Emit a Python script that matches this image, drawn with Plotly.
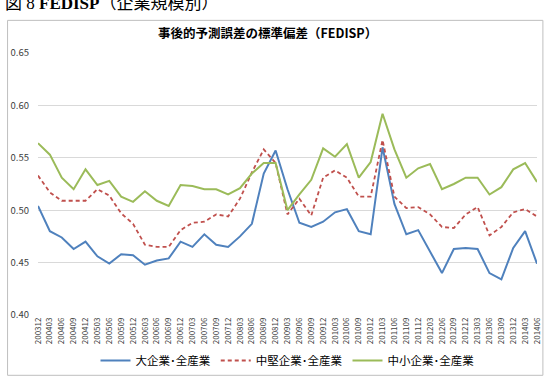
import plotly.graph_objects as go

categories = ["200312",
    "200403", "200406", "200409", "200412",
    "200503", "200506", "200509", "200512",
    "200603", "200606", "200609", "200612",
    "200703", "200706", "200709", "200712",
    "200803", "200806", "200809", "200812",
    "200903", "200906", "200909", "200912",
    "201003", "201006", "201009", "201012",
    "201103", "201106", "201109", "201112",
    "201203", "201206", "201209", "201212",
    "201303", "201306", "201309", "201312",
    "201403", "201406"]

large = [0.504,
    0.480, 0.474, 0.463, 0.470,
    0.456, 0.449, 0.458, 0.457,
    0.448, 0.452, 0.454, 0.470,
    0.465, 0.477, 0.467, 0.465,
    0.475, 0.487, 0.535, 0.557,
    0.520, 0.488, 0.484, 0.489,
    0.498, 0.501, 0.480, 0.477,
    0.560, 0.506, 0.477, 0.481,
    0.460, 0.440, 0.463, 0.464,
    0.463, 0.440, 0.434, 0.464,
    0.480, 0.449]

medium = [0.533,
    0.517, 0.509, 0.509, 0.509,
    0.520, 0.514, 0.497, 0.487,
    0.467, 0.465, 0.465, 0.481,
    0.488, 0.489, 0.496, 0.494,
    0.511, 0.536, 0.558, 0.545,
    0.496, 0.511, 0.495, 0.531,
    0.538, 0.531, 0.513, 0.513,
    0.567, 0.513, 0.502, 0.503,
    0.496, 0.484, 0.483, 0.496,
    0.503, 0.476, 0.484, 0.498,
    0.501, 0.494]

small = [0.564,
    0.553, 0.531, 0.520, 0.539,
    0.524, 0.528, 0.513, 0.508,
    0.518, 0.509, 0.504, 0.524,
    0.523, 0.520, 0.520, 0.515,
    0.521, 0.535, 0.545, 0.545,
    0.500, 0.515, 0.529, 0.559,
    0.551, 0.563, 0.531, 0.546,
    0.592, 0.558, 0.531, 0.540,
    0.544, 0.520, 0.525, 0.531,
    0.531, 0.515, 0.522, 0.539,
    0.545, 0.527]

series_names = ["大企業･全産業", "中堅企業･全産業", "中小企業･全産業"]

fig = go.Figure()
fig.add_trace(go.Scatter(x=categories, y=large, mode="lines", name=series_names[0],
                         line=dict(color="#4F81BD", width=2)))
fig.add_trace(go.Scatter(x=categories, y=medium, mode="lines", name=series_names[1],
                         line=dict(color="#C0504D", width=1.8, dash="4px,3px")))
fig.add_trace(go.Scatter(x=categories, y=small, mode="lines", name=series_names[2],
                         line=dict(color="#9BBB59", width=2)))

L, R, T, B = 34, 11, 53, 68
W, H = 553, 386
pw, ph = W - L - R, H - T - B

def px_x(x):
    return (x - L) / pw

def px_y(y):
    return (H - B - y) / ph

fig.update_layout(
    width=W, height=H,
    margin=dict(l=L, r=R, t=T, b=B),
    paper_bgcolor="white", plot_bgcolor="white",
    font=dict(family="Noto Sans CJK JP, Noto Sans, sans-serif", color="#404040"),
    showlegend=True,
    legend=dict(orientation="h", x=0.5, xanchor="center", y=px_y(364), yanchor="middle",
                font=dict(size=11.5, color="#000000"), traceorder="normal",
                bgcolor="rgba(0,0,0,0)"),
    xaxis=dict(type="category", tickangle=-90, tickfont=dict(size=8, color="#404040"),
               showgrid=False, showline=False, ticks="", fixedrange=True),
    yaxis=dict(range=[0.40, 0.65], tickvals=[0.40, 0.45, 0.50, 0.55, 0.60, 0.65],
               tickformat=".2f", showgrid=True, gridcolor="#D9D9D9", gridwidth=1,
               zeroline=False, showline=False, ticks="", ticklabelstandoff=8,
               tickfont=dict(size=9.5, color="#404040")),
    shapes=[dict(type="rect", xref="paper", yref="paper",
                 x0=px_x(3), x1=px_x(548), y0=px_y(379), y1=px_y(20),
                 line=dict(color="#BFBFBF", width=1), fillcolor="rgba(0,0,0,0)", layer="below")],
    annotations=[
        dict(text="<b>事後的予測誤差の標準偏差（FEDISP）</b>", xref="paper", yref="paper",
             x=px_x(268), y=px_y(32), xanchor="center", yanchor="middle", showarrow=False,
             font=dict(size=12.5, color="#000000")),
        dict(text="図 8 <b>FEDISP</b>（企業規模別）", xref="paper", yref="paper",
             x=px_x(-2), y=px_y(3), xanchor="left", yanchor="middle", showarrow=False,
             font=dict(size=17, color="#000000", family="Liberation Serif, Noto Sans CJK JP")),
    ],
)

fig.write_html("out.html")
